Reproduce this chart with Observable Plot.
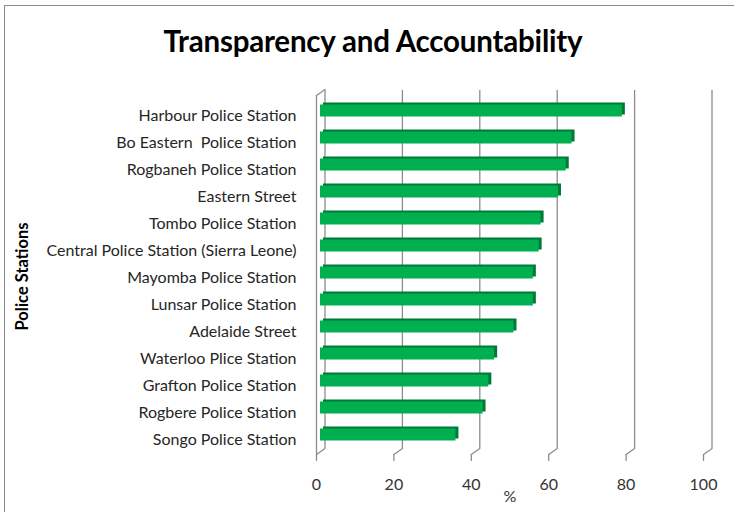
<!DOCTYPE html>
<html><head><meta charset="utf-8">
<script src="https://cdn.jsdelivr.net/npm/d3@7"></script>
<script src="https://cdn.jsdelivr.net/npm/@observablehq/plot@0.6"></script>
<style>
body{margin:0;background:#fff;}
#wrap{position:relative;width:734px;height:512px;overflow:hidden;font-family:Lato,sans-serif;background:#fff;}
#border{position:absolute;left:4px;top:5px;width:800px;height:600px;border:1.5px solid #8c8c8c;}
#title{position:absolute;left:6px;top:23px;width:734px;text-align:center;font-weight:bold;font-size:29.5px;color:#000;line-height:36px;letter-spacing:-0.2px;}
#chart{position:absolute;left:0;top:80px;}
</style>
</head><body>
<div id="wrap"><div id="border"></div><div id="title">Transparency and Accountability</div><div id="chart"></div></div>
<script>
const stations = [
  "Harbour Police Station",
  "Bo Eastern  Police Station",
  "Rogbaneh Police Station",
  "Eastern Street",
  "Tombo Police Station",
  "Central Police Station (Sierra Leone)",
  "Mayomba Police Station",
  "Lunsar Police Station",
  "Adelaide Street",
  "Waterloo Plice Station",
  "Grafton Police Station",
  "Rogbere Police Station",
  "Songo Police Station"
];
const values = [78, 65, 63.5, 61.5, 57, 56.5, 55, 55, 50, 45, 43.5, 42, 35];
const xTicks = [0, 20, 40, 60, 80, 100];

const data = stations.map((s, i) => ({station: s, value: values[i]}));
const lineShape = {draw(context, l) { context.moveTo(0, 0); context.lineTo(0, -l); }};
const grid = "#8c8c8c";

const chart = Plot.plot({
  width: 734, height: 432,
  marginLeft: 316, marginRight: 31, marginTop: 18, marginBottom: 58,
  insetBottom: -2,
  style: {fontFamily: "Lato, sans-serif", fontSize: "16px", color: "#333", background: "transparent", overflow: "visible"},
  x: {domain: [0, 100]},
  y: {domain: stations, paddingInner: 0.54, paddingOuter: 0.28},
  marks: [
    Plot.ruleX(xTicks, {dx: 8.5, dy: -6, insetTop: -2, insetBottom: 0, stroke: grid, strokeWidth: 1.3}),
    Plot.vector(xTicks, {x: d => d, frameAnchor: "bottom", length: 10.4, rotate: 55, anchor: "start", shape: lineShape, stroke: grid, strokeWidth: 1.3}),
    Plot.ruleX([0], {insetTop: -3, insetBottom: 0, stroke: grid, strokeWidth: 1.3}),
    Plot.vector([0], {x: d => d, frameAnchor: "top", dy: -3, length: 10.4, rotate: 55, anchor: "start", shape: lineShape, stroke: grid, strokeWidth: 1.3}),
    Plot.barX(data, {x: "value", y: "station", dx: 7, dy: -6.5, fill: "#007a37"}),
    Plot.barX(data, {x: "value", y: "station", dx: 4, dy: -4.5, fill: "#00b050"}),
    Plot.axisX(xTicks, {tickSize: 7, tickPadding: 17, line: true, stroke: grid, strokeWidth: 1.3, fill: "#333",
      label: "%", labelAnchor: "center", labelOffset: 47, labelArrow: "none", fontSize: 16}),
    Plot.axisY({tickSize: 0, tickPadding: 20, label: null, fontSize: 16, fill: "#262626"}),
    Plot.text(["Police Stations"], {frameAnchor: "left", textAnchor: "middle", rotate: -90, dx: -294, fontWeight: "bold", fontSize: 16.5, fill: "#000"})
  ]
});
document.getElementById("chart").appendChild(chart);
</script>
</body></html>
